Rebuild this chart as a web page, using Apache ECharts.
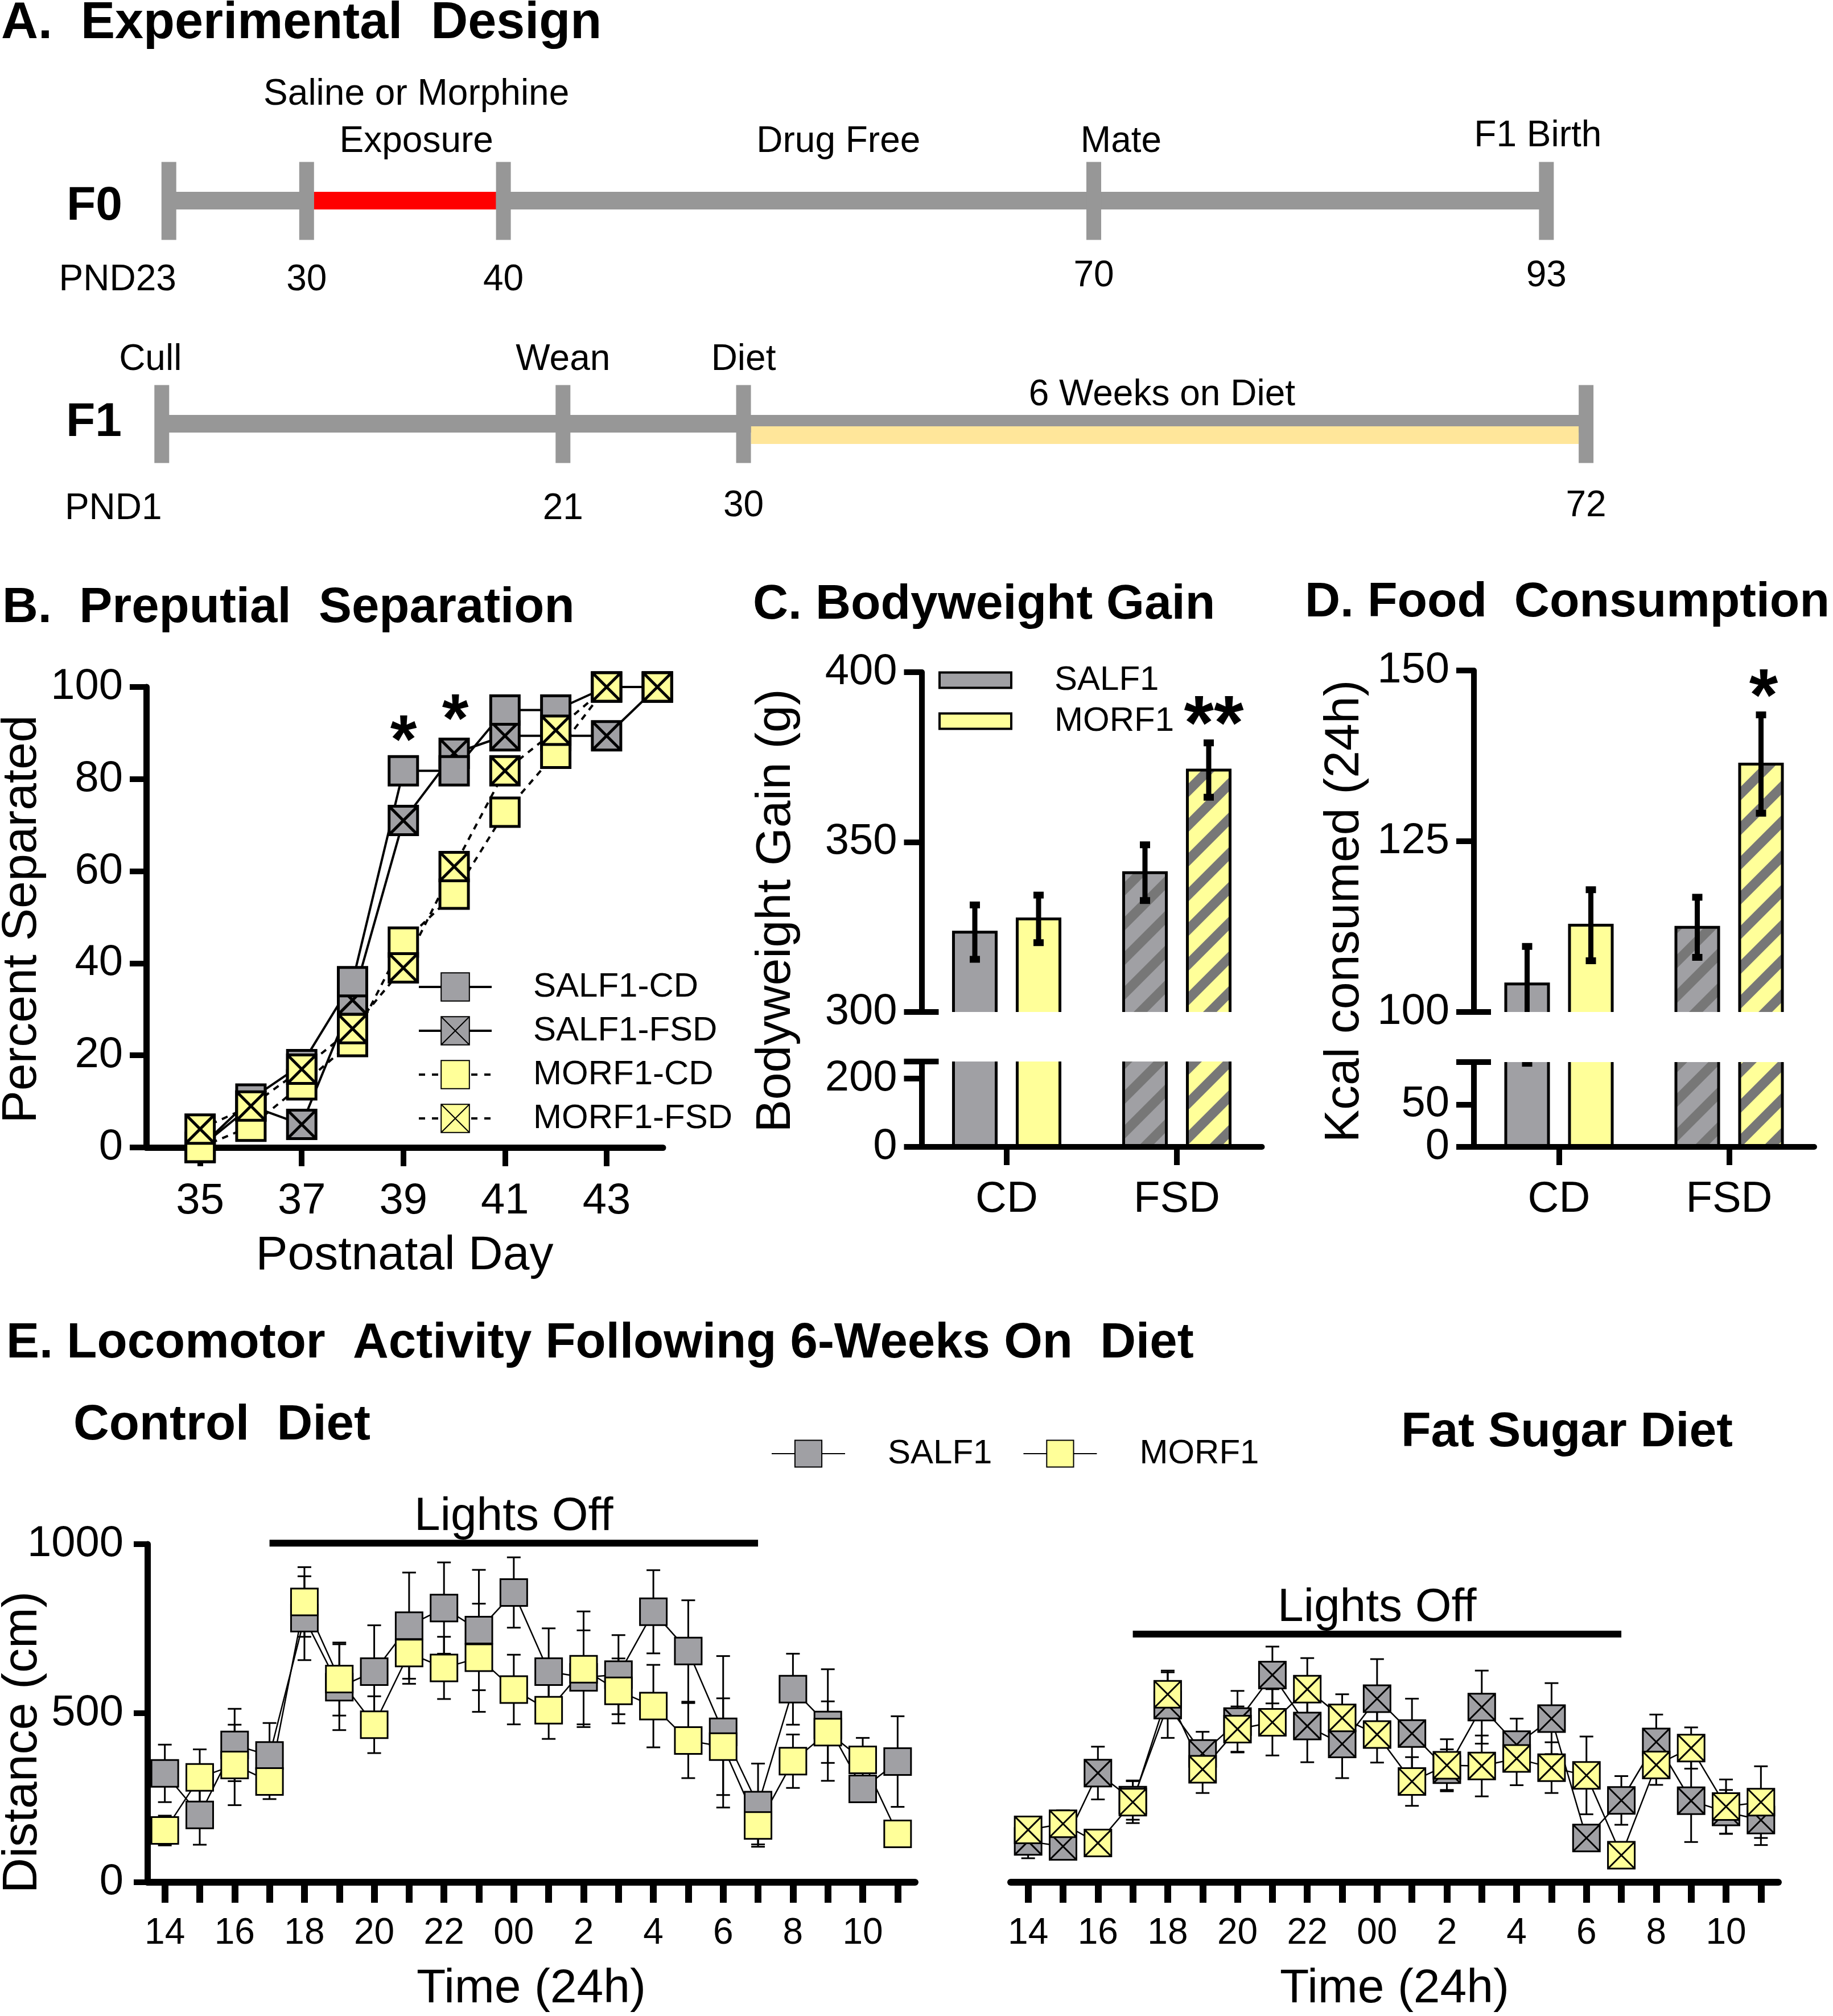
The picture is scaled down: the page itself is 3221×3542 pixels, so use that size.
<!DOCTYPE html>
<html><head><meta charset="utf-8">
<script src="https://cdn.jsdelivr.net/npm/echarts@6/dist/echarts.min.js"></script>
<style>html,body{margin:0;padding:0;background:#fff}#c{width:3221px;height:3542px}</style>
</head><body><div id="c"></div>
<script>
// ================= DATA =================
// Panel A: experimental timeline (postnatal days)
const f0Days = [23, 30, 40, 70, 93];
const f0DayLabels = ['PND23', '30', '40', '70', '93'];
const f0Exposure = [30, 40];
const f0Notes = ['Saline or Morphine\nExposure', 'Drug Free', 'Mate', 'F1 Birth'];
const f0NoteDays = [35, 55, 70, 93];
const f1Days = [1, 21, 30, 72];
const f1DayLabels = ['PND1', '21', '30', '72'];
const f1DietPeriod = [30, 72];
const f1Notes = ['Cull', 'Wean', 'Diet', '6 Weeks on Diet'];
const f1NoteDays = [1, 21, 30, 51];

// Panel B: preputial separation (% separated)
const psDays = [35, 36, 37, 38, 39, 40, 41, 42, 43, 44];
const psTickDays = [35, 37, 39, 41, 43];
const psSalCD = [0, 10.5, 18, 36, 81.8, 81.8, 95, 95, 100, 100];
const psSalFSD = [0, 9, 5, 32, 71, 85.6, 89.4, 89.4, 89.4, 100];
const psMorCD = [0, 4.6, 13.6, 23, 44.6, 55, 72.8, 85.6, 100, 100];
const psMorFSD = [4, 9, 17, 25.8, 39, 61, 81.8, 90.6, 100, 100];

// Panels C & D
const dietCats = ['CD', 'FSD'];
const bwSalMean = [323.5, 341.0], bwSalSem = [8, 8.2];
const bwMorMean = [327.4, 371.2], bwMorSem = [7, 8];
const kcalSalMean = [104.1, 112.4], kcalSalSem = [5.5, 4.4];
const kcalMorMean = [112.7, 136.3], kcalMorSem = [5.2, 7.2];

// Panel E: locomotor activity (cm)
const hours = ['14','15','16','17','18','19','20','21','22','23','00','1','2','3','4','5','6','7','8','9','10','11'];
const lightsOff = ['17', '7'];
const cdSalMean = [322, 199, 406, 375, 781, 577, 623, 759, 811, 746, 857, 623, 606, 614, 800, 684, 445, 228, 571, 465, 276, 357];
const cdSalSem  = [85, 88, 107, 96, 124, 127, 137, 157, 135, 178, 104, 128, 139, 117, 123, 150, 224, 123, 105, 165, 35, 134];
const cdMorMean = [153, 310, 347, 298, 829, 601, 466, 678, 634, 664, 570, 509, 630, 566, 521, 419, 401, 168, 358, 444, 362, 143];
const cdMorSem  = [44, 83, 119, 52, 103, 108, 84, 91, 92, 160, 103, 85, 171, 96, 122, 111, 143, 56, 79, 91, 65, 20];
const fsdSalMean = [121, 106, 323, 243, 524, 381, 475, 613, 462, 409, 543, 440, 333, 518, 407, 484, 131, 242, 415, 241, 208, 184];
const fsdSalSem  = [50, 35, 78, 58, 97, 64, 91, 84, 107, 101, 117, 103, 60, 108, 77, 105, 25, 72, 81, 122, 65, 74];
const fsdMorMean = [155, 173, 116, 237, 556, 334, 453, 473, 571, 486, 437, 298, 346, 344, 366, 339, 316, 80, 347, 397, 224, 237];
const fsdMorSem  = [30, 40, 25, 62, 70, 70, 67, 98, 92, 70, 83, 72, 77, 90, 79, 75, 115, 20, 59, 61, 80, 106];

// ================= STYLE =================
const FF = '"Liberation Sans", Arial, Helvetica, sans-serif';
const GRAY = '#A0A0A4', YEL = '#FFFF99', STRIPE = '#777777';
const TLGRAY = '#979797', TLRED = '#FF0000', TLDIET = '#FFE69A';
const XPATH = 'path://M0,0H10V10H0Z M0,0L10,10 M10,0L0,10';
const TY = 5; // text vertical nudge

function stripes(bg, fg) {
  const P = 61, c = document.createElement('canvas'); c.width = P; c.height = P;
  const g = c.getContext('2d'); g.fillStyle = bg; g.fillRect(0, 0, P, P);
  g.strokeStyle = fg; g.lineWidth = 17;
  for (const o of [-P, 0, P]) { g.beginPath(); g.moveTo(o - 6, P + 6); g.lineTo(o + P + 6, -6); g.stroke(); }
  return c;
}
const patGray = { image: stripes(GRAY, STRIPE), repeat: 'repeat' };
const patYel = { image: stripes(YEL, STRIPE), repeat: 'repeat' };

function txt(text, x, y, size, o) {
  o = o || {};
  const al = o.align || 'left';
  return { type: 'text', x, y: y + (o.rot ? 0 : TY), rotation: o.rot || 0, silent: true, z: 100,
    style: { text, font: (o.bold ? 'bold ' : '') + size + 'px ' + FF, fill: '#000',
      align: al, textAlign: al, verticalAlign: 'middle', textVerticalAlign: 'middle' } };
}

// ---------- timeline renderers ----------
function segSeries(xi, yi, span, color, dy, inset) {
  return { type: 'custom', xAxisIndex: xi, yAxisIndex: yi, silent: true, data: [[span[0], span[1]]],
    renderItem: (p, api) => {
      const a = api.coord([api.value(0), 0.5]), b = api.coord([api.value(1), 0.5]);
      return { type: 'rect', shape: { x: a[0] + inset, y: a[1] + dy - 15.5, width: b[0] - a[0] - 2 * inset, height: 31 }, style: { fill: color } };
    } };
}
function tickSeries(xi, yi, days) {
  return { type: 'custom', xAxisIndex: xi, yAxisIndex: yi, silent: true, data: days.map(d => [d, 0.5]),
    renderItem: (p, api) => {
      const c = api.coord([api.value(0), 0.5]);
      return { type: 'rect', shape: { x: c[0] - 13, y: c[1] - 68, width: 26, height: 137 }, style: { fill: TLGRAY } };
    } };
}
function labelSeries(xi, yi, days, texts, dxs, dys) {
  return { type: 'custom', xAxisIndex: xi, yAxisIndex: yi, silent: true, data: days.map(d => [d, 0.5]),
    renderItem: (p, api) => {
      const c = api.coord([api.value(0), 0.5]), i = p.dataIndex;
      return { type: 'text', x: c[0] + dxs[i], y: c[1] + dys[i] + TY,
        style: { text: texts[i], font: '64px ' + FF, fill: '#000', align: 'center', textAlign: 'center',
          verticalAlign: 'middle', textVerticalAlign: 'middle', lineHeight: 83 } };
    } };
}

// ---------- bar (C, D) renderer ----------
function barSeries(name, xi, yi, means, sems, side, color, pat) {
  return { type: 'custom', name, xAxisIndex: xi, yAxisIndex: yi, silent: true, clip: true,
    data: means.map((m, i) => [i, m, sems[i]]),
    renderItem: (p, api) => {
      const ci = api.value(0), v = api.value(1), s = api.value(2);
      const band = api.size([1, 0])[0];
      const c = api.coord([ci, v]);
      const xc = c[0] + side * 0.1873 * band, w = 0.251 * band;
      const base = api.coord([ci, 0])[1], yTop = c[1];
      const xl = xc - w / 2, xr = xc + w / 2;
      const fill = dietCats[ci] === 'FSD' ? pat : color;
      const yHi = api.coord([ci, v + s])[1], yLo = api.coord([ci, v - s])[1];
      return { type: 'group', children: [
        { type: 'rect', shape: { x: xl, y: yTop, width: w, height: base - yTop }, style: { fill } },
        { type: 'polyline', shape: { points: [[xl, base], [xl, yTop], [xr, yTop], [xr, base]] }, style: { fill: null, stroke: '#000', lineWidth: 5 } },
        { type: 'rect', shape: { x: xc - 4.5, y: yHi, width: 9, height: yLo - yHi }, style: { fill: '#000' } },
        { type: 'rect', shape: { x: xc - 9, y: yHi - 6, width: 18, height: 12 }, style: { fill: '#000' } },
        { type: 'rect', shape: { x: xc - 9, y: yLo - 6, width: 18, height: 12 }, style: { fill: '#000' } }
      ] };
    } };
}

// ---------- E renderers ----------
function errSeries(xi, yi, means, sems) {
  return { type: 'custom', xAxisIndex: xi, yAxisIndex: yi, silent: true,
    data: means.map((m, i) => [i, m, sems[i]]),
    renderItem: (p, api) => {
      const i = api.value(0), m = api.value(1), s = api.value(2);
      const t = api.coord([i, m + s]), b = api.coord([i, m - s]), x = t[0];
      const st = { stroke: '#000', lineWidth: 3 };
      return { type: 'group', children: [
        { type: 'line', shape: { x1: x, y1: t[1], x2: x, y2: b[1] }, style: st },
        { type: 'line', shape: { x1: x - 12, y1: t[1], x2: x + 12, y2: t[1] }, style: st },
        { type: 'line', shape: { x1: x - 12, y1: b[1], x2: x + 12, y2: b[1] }, style: st }
      ] };
    } };
}
function eLine(name, xi, yi, means, color, symbol) {
  return { type: 'line', name, xAxisIndex: xi, yAxisIndex: yi, data: means, symbol, symbolSize: 47,
    showAllSymbol: true, clip: false, silent: true, emphasis: { disabled: true },
    itemStyle: { color, borderColor: '#000', borderWidth: 3 }, lineStyle: { color: '#000', width: 2.5 } };
}
function lightsSeries(xi, yi, level) {
  return { type: 'custom', xAxisIndex: xi, yAxisIndex: yi, silent: true,
    data: [[hours.indexOf(lightsOff[0]), hours.indexOf(lightsOff[1]), level]],
    renderItem: (p, api) => {
      const a = api.coord([api.value(0), api.value(2)]), b = api.coord([api.value(1), api.value(2)]);
      return { type: 'group', children: [
        { type: 'rect', shape: { x: a[0], y: a[1] - 6, width: b[0] - a[0], height: 12 }, style: { fill: '#000' } },
        { type: 'text', x: (a[0] + b[0]) / 2, y: a[1] - 46, style: { text: 'Lights Off', font: '82px ' + FF, fill: '#000',
          align: 'center', textAlign: 'center', verticalAlign: 'middle', textVerticalAlign: 'middle' } }
      ] };
    } };
}
function bLine(name, vals, color, symbol, dashed) {
  return { type: 'line', name, xAxisIndex: 2, yAxisIndex: 2, data: psDays.map((d, i) => [d, vals[i]]),
    symbol, symbolSize: 50, clip: false, silent: true, emphasis: { disabled: true },
    itemStyle: { color, borderColor: '#000', borderWidth: 5 },
    lineStyle: { color: '#000', width: 4, type: dashed ? [11, 10] : 'solid' } };
}

// ---------- axes helpers ----------
const LBL = { color: '#000', fontSize: 76, fontFamily: FF, hideOverlap: false, formatter: v => String(v) };
function yMain(gi, min, max, o) {
  o = o || {};
  return { gridIndex: gi, type: 'value', min, max, interval: o.interval, position: 'left',
    axisLine: { show: true, lineStyle: { color: '#000', width: o.lw || 10 } },
    axisTick: { show: true, length: o.tl || 31, customValues: o.ticks, lineStyle: { color: '#000', width: 10 } },
    axisLabel: Object.assign({ margin: o.margin || 43, customValues: o.labels, showMinLabel: true, showMaxLabel: true }, LBL),
    splitLine: { show: false } };
}
function yBreak(gi, min, max, at, labels) {
  return { gridIndex: gi, type: 'value', min, max, position: 'left',
    axisLine: { show: false }, splitLine: { show: false },
    axisLabel: labels ? Object.assign({ show: true, margin: 43, customValues: labels }, LBL) : { show: false },
    axisTick: { show: true, inside: true, length: 30, customValues: [at], lineStyle: { color: '#000', width: 10 } } };
}
function hidden(gi, type, min, max, data) {
  return { gridIndex: gi, type, min, max, data, show: false, splitLine: { show: false } };
}
function catAx(gi, data, o) {
  return Object.assign({ gridIndex: gi, type: 'category', data, boundaryGap: true, z: 10,
    axisLine: { show: true, lineStyle: { color: '#000', width: o.lw } },
    axisTick: { show: true, alignWithLabel: true, interval: 0, length: o.tl, lineStyle: { color: '#000', width: o.tw } },
    axisLabel: { interval: o.li, margin: o.margin, color: '#000', fontSize: o.fs, fontFamily: FF, hideOverlap: false },
    splitLine: { show: false } }, o.extra || {});
}

const G = (left, top, width, height) => ({ left, top, width, height, outerBoundsMode: 'none', containLabel: false });
const ENAME = { name: 'Time (24h)', nameLocation: 'middle', nameGap: 146, nameTextStyle: { color: '#000', fontSize: 84, fontFamily: FF } };

const option = {
  animation: false,
  backgroundColor: '#fff',
  textStyle: { fontFamily: FF },
  grid: [
    G(267, 284, 2422, 137),     // 0 F0
    G(273, 676, 2506, 137),     // 1 F1
    G(257, 1207, 908, 809),     // 2 B
    G(1619.5, 1181, 598, 597),  // 3 C upper
    G(1619.5, 1865, 598, 150),  // 4 C lower
    G(2590, 1178, 598, 600),    // 5 D upper
    G(2590, 1866, 598, 149),    // 6 D lower
    G(259, 2713, 1349, 594),    // 7 E left
    G(1776, 2713, 1349, 594)    // 8 E right
  ],
  xAxis: [
    hidden(0, 'value', 22.14, 92.18),
    hidden(1, 'value', 0.68, 71.77),
    { gridIndex: 2, type: 'value', min: 33.94, max: 44.11,
      axisLine: { show: true, onZero: false, lineStyle: { color: '#000', width: 11 } },
      axisTick: { show: true, length: 33, customValues: psTickDays, lineStyle: { color: '#000', width: 10 } },
      axisLabel: Object.assign({ margin: 57, customValues: psTickDays }, LBL),
      splitLine: { show: false },
      name: 'Postnatal Day', nameLocation: 'middle', nameGap: 149,
      nameTextStyle: { color: '#000', fontSize: 84, fontFamily: FF } },
    hidden(3, 'category', null, null, dietCats),
    catAx(4, dietCats, { lw: 10, tl: 32, tw: 10, li: 0, margin: 55, fs: 76 }),
    hidden(5, 'category', null, null, dietCats),
    catAx(6, dietCats, { lw: 10, tl: 32, tw: 10, li: 0, margin: 55, fs: 76 }),
    catAx(7, hours, { lw: 12, tl: 36, tw: 12, li: 1, margin: 58, fs: 64, extra: ENAME }),
    catAx(8, hours, { lw: 12, tl: 36, tw: 12, li: 1, margin: 58, fs: 64, extra: ENAME })
  ],
  yAxis: [
    hidden(0, 'value', 0, 1),
    hidden(1, 'value', 0, 1),
    yMain(2, 0, 100, { interval: 20, lw: 11, tl: 29, margin: 41 }),        // 2 B
    yMain(3, 300, 400, { interval: 50 }),                                    // 3 C up
    yBreak(3, 300, 400, 300),                                                // 4
    yMain(4, 0, 250, { ticks: [0, 200, 250], labels: [0, 200] }),            // 5 C low
    yBreak(4, 0, 250, 250),                                                  // 6
    yMain(5, 100, 150, { interval: 25 }),                                    // 7 D up
    yBreak(5, 100, 150, 100),                                                // 8
    yMain(6, 0, 100, { ticks: [0, 50, 100], labels: [0] }),                  // 9 D low
    yBreak(6, 0, 100, 100, [50]),                                            // 10
    yMain(7, 0, 1000, { interval: 500, lw: 11, tl: 24, margin: 42 }),        // 11 E left
    hidden(8, 'value', 0, 1000)                                              // 12 E right
  ],
  legend: [
    { left: 734, top: 1704, orient: 'vertical', padding: 0, itemWidth: 128, itemHeight: 62, itemGap: 17,
      selectedMode: false,
      data: [{ name: 'SALF1-CD', lineStyle: { width: 4, type: 'solid' } },
             { name: 'SALF1-FSD', lineStyle: { width: 4, type: 'solid' } },
             { name: 'MORF1-CD', lineStyle: { width: 4, type: [11, 12] } },
             { name: 'MORF1-FSD', lineStyle: { width: 4, type: [11, 12] } }],
      textStyle: { color: '#000', fontSize: 60, fontFamily: FF, padding: [0, 0, 0, 68] } },
    { left: 1649, top: 1165, orient: 'vertical', padding: 0, icon: 'rect', itemWidth: 126, itemHeight: 27, itemGap: 12,
      selectedMode: false,
      data: [{ name: 'SALF1', itemStyle: { color: GRAY, borderColor: '#000', borderWidth: 4 } },
             { name: 'MORF1', itemStyle: { color: YEL, borderColor: '#000', borderWidth: 4 } }],
      textStyle: { color: '#000', fontSize: 60, fontFamily: FF, padding: [0, 0, 0, 71] } },
    { left: 1355, top: 2524, orient: 'horizontal', padding: 0, itemWidth: 129, itemHeight: 59, itemGap: 54,
      selectedMode: false, data: ['E-SALF1', 'E-MORF1'], formatter: n => n.slice(2),
      textStyle: { color: '#000', fontSize: 60, fontFamily: FF, padding: [0, 0, 0, 70] } }
  ],
  series: [
    // Panel A, F0
    segSeries(0, 0, [f0Days[0], f0Days[f0Days.length - 1]], TLGRAY, 0, 0),
    segSeries(0, 0, f0Exposure, TLRED, 0, 13),
    tickSeries(0, 0, f0Days),
    labelSeries(0, 0, f0Days, f0DayLabels, [-90, 0, 0, 0, 0], [135, 135, 135, 128, 128]),
    labelSeries(0, 0, f0NoteDays, f0Notes, [20, 70, 48, -15], [-150, -108, -108, -118]),
    // Panel A, F1
    segSeries(1, 1, [f1Days[0], f1Days[f1Days.length - 1]], TLGRAY, 0, 0),
    segSeries(1, 1, f1DietPeriod, TLDIET, 20, 13),
    tickSeries(1, 1, f1Days),
    labelSeries(1, 1, f1Days, f1DayLabels, [-85, 0, 0, 0], [145, 145, 140, 140]),
    labelSeries(1, 1, f1NoteDays, f1Notes, [-20, 0, 0, -5], [-117, -117, -117, -55]),
    // Panel B
    bLine('SALF1-FSD', psSalFSD, GRAY, XPATH, false),
    bLine('SALF1-CD', psSalCD, GRAY, 'rect', false),
    bLine('MORF1-CD', psMorCD, YEL, 'rect', true),
    bLine('MORF1-FSD', psMorFSD, YEL, XPATH, true),
    // Panel C
    barSeries('SALF1', 3, 3, bwSalMean, bwSalSem, -1, GRAY, patGray),
    barSeries('MORF1', 3, 3, bwMorMean, bwMorSem, 1, YEL, patYel),
    barSeries('C-SALF1-low', 4, 5, bwSalMean, bwSalSem, -1, GRAY, patGray),
    barSeries('C-MORF1-low', 4, 5, bwMorMean, bwMorSem, 1, YEL, patYel),
    // Panel D
    barSeries('D-SALF1', 5, 7, kcalSalMean, kcalSalSem, -1, GRAY, patGray),
    barSeries('D-MORF1', 5, 7, kcalMorMean, kcalMorSem, 1, YEL, patYel),
    barSeries('D-SALF1-low', 6, 9, kcalSalMean, kcalSalSem, -1, GRAY, patGray),
    barSeries('D-MORF1-low', 6, 9, kcalMorMean, kcalMorSem, 1, YEL, patYel),
    // Panel E, control diet
    errSeries(7, 11, cdSalMean, cdSalSem),
    eLine('E-SALF1', 7, 11, cdSalMean, GRAY, 'rect'),
    errSeries(7, 11, cdMorMean, cdMorSem),
    eLine('E-MORF1', 7, 11, cdMorMean, YEL, 'rect'),
    lightsSeries(7, 11, 1003),
    // Panel E, fat sugar diet
    errSeries(8, 12, fsdSalMean, fsdSalSem),
    eLine('F-SALF1', 8, 12, fsdSalMean, GRAY, XPATH),
    errSeries(8, 12, fsdMorMean, fsdMorSem),
    eLine('F-MORF1', 8, 12, fsdMorMean, YEL, XPATH),
    lightsSeries(8, 12, 734)
  ],
  graphic: { elements: [
    txt('A.  Experimental  Design', 2, 37, 90, { bold: true }),
    txt('F0', 166, 358, 84, { bold: true, align: 'center' }),
    txt('F1', 165, 738, 84, { bold: true, align: 'center' }),
    txt('B.  Preputial  Separation', 4, 1064, 87, { bold: true }),
    txt('C. Bodyweight Gain', 1323, 1058, 86, { bold: true }),
    txt('D. Food  Consumption', 2293, 1054, 86, { bold: true }),
    txt('E. Locomotor  Activity Following 6-Weeks On  Diet', 11, 2356, 87, { bold: true }),
    txt('Control  Diet', 129, 2500, 87, { bold: true }),
    txt('Fat Sugar Diet', 2462, 2512, 86, { bold: true }),
    txt('Percent Separated', 39, 1615, 86, { align: 'center', rot: Math.PI / 2 }),
    txt('Bodyweight Gain (g)', 1364, 1600, 86, { align: 'center', rot: Math.PI / 2 }),
    txt('Kcal consumed (24h)', 2363, 1601, 86, { align: 'center', rot: Math.PI / 2 }),
    txt('Distance (cm)', 40, 3061, 86, { align: 'center', rot: Math.PI / 2 }),
    txt('*', 709, 1302, 120, { bold: true, align: 'center' }),
    txt('*', 800, 1265, 120, { bold: true, align: 'center' }),
    txt('**', 2133, 1274, 135, { bold: true, align: 'center' }),
    txt('*', 3099, 1225, 130, { bold: true, align: 'center' })
  ] }
};

const chart = echarts.init(document.getElementById('c'), null, { renderer: 'canvas', width: 3221, height: 3542 });
chart.setOption(option);
</script>
</body></html>
